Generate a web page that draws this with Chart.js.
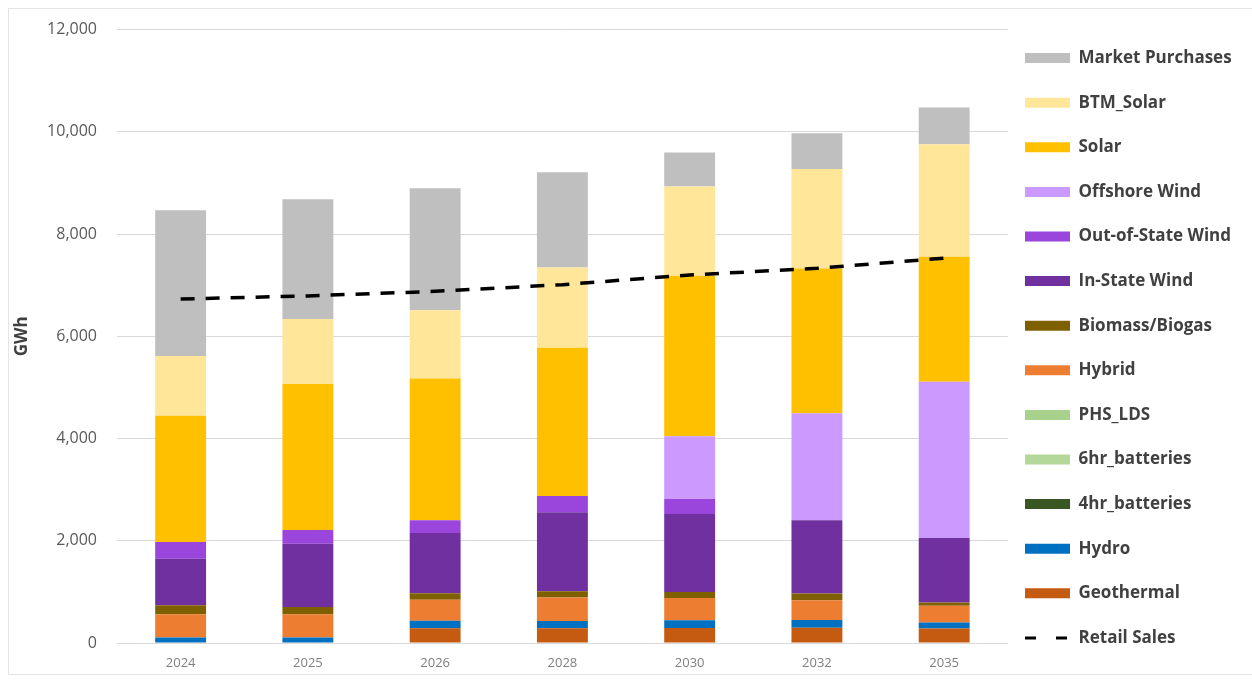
<!DOCTYPE html>
<html>
<head>
<meta charset="utf-8">
<title>Energy supply by resource</title>
<script src="https://cdn.jsdelivr.net/npm/chart.js@4.4.1/dist/chart.umd.min.js"></script>
<style>
  html, body { margin: 0; padding: 0; background: #fff; }
  #wrap { position: relative; width: 1252px; height: 681px; overflow: hidden; }
  #frame { position: absolute; left: 8px; top: 8px; width: 1300px; height: 667px; border: 1px solid #e4e4e4; box-sizing: border-box; }
  #chart { position: absolute; left: 0; top: 0; }
</style>
</head>
<body>
<div id="wrap"><div id="frame"></div><canvas id="chart" width="1252" height="681"></canvas></div>
<script>
// values (GWh)
var years = ['2024', '2025', '2026', '2028', '2030', '2032', '2035'];
var geothermal = [0, 0, 290, 290, 295, 298, 286];
var hydro = [110, 110, 145, 140, 150, 150, 117];
var batteries4hr = [0, 0, 0, 0, 0, 0, 0];
var batteries6hr = [0, 0, 0, 0, 0, 0, 0];
var phsLds = [0, 0, 0, 0, 0, 0, 0];
var hybrid = [450, 450, 410, 460, 435, 390, 324];
var biomass = [180, 145, 130, 120, 120, 130, 66];
var inStateWind = [910, 1235, 1175, 1550, 1523, 1432, 1263];
var outStateWind = [325, 273, 253, 314, 293, 0, 0];
var offshoreWind = [0, 0, 0, 0, 1230, 2096, 3053];
var solar = [2470, 2856, 2773, 2900, 3137, 2830, 2446];
var btmSolar = [1170, 1267, 1332, 1572, 1747, 1949, 2200];
var marketPurchases = [2850, 2345, 2389, 1865, 664, 699, 720];
var retailSales = [6730, 6790, 6880, 7010, 7200, 7330, 7530];

var colors = {
  'Geothermal': '#c55a11',
  'Hydro': '#0070c0',
  '4hr_batteries': '#385723',
  '6hr_batteries': '#b4d79a',
  'PHS_LDS': '#a9d18e',
  'Hybrid': '#ed7d31',
  'Biomass/Biogas': '#7f6000',
  'In-State Wind': '#7030a0',
  'Out-of-State Wind': '#9a45dc',
  'Offshore Wind': '#cc99ff',
  'Solar': '#ffc000',
  'BTM_Solar': '#ffe699',
  'Market Purchases': '#bfbfbf'
};

// bottom of the stack first
var stackOrder = [
  ['Geothermal', geothermal],
  ['Hydro', hydro],
  ['4hr_batteries', batteries4hr],
  ['6hr_batteries', batteries6hr],
  ['PHS_LDS', phsLds],
  ['Hybrid', hybrid],
  ['Biomass/Biogas', biomass],
  ['In-State Wind', inStateWind],
  ['Out-of-State Wind', outStateWind],
  ['Offshore Wind', offshoreWind],
  ['Solar', solar],
  ['BTM_Solar', btmSolar],
  ['Market Purchases', marketPurchases]
];

var datasets = stackOrder.map(function (s) {
  return {
    type: 'bar', label: s[0], data: s[1], stack: 'supply',
    backgroundColor: colors[s[0]], borderWidth: 0,
    barPercentage: 0.4, categoryPercentage: 1
  };
});
datasets.push({
  type: 'line', label: 'Retail Sales', data: retailSales, stack: 'retail', order: -1,
  borderColor: '#000', borderWidth: 3.5, borderDash: [14, 11],
  pointRadius: 0, fill: false, tension: 0
});

var FONT = '"Open Sans", "Noto Sans", sans-serif';

// the legend sits a bit closer to the plot than Chart.js puts it
var legendNudge = {
  id: 'legendNudge',
  afterLayout: function (chart) {
    var lg = chart.legend; if (!lg) return;
    var dx = 1025 - (lg.left + lg.options.labels.padding);
    lg.left += dx; lg.right += dx;
  }
};

new Chart(document.getElementById('chart').getContext('2d'), {
  type: 'bar',
  data: { labels: years, datasets: datasets },
  plugins: [legendNudge],
  options: {
    responsive: false,
    animation: false,
    layout: { padding: { top: 15, right: 0, bottom: 0, left: 0 } },
    plugins: {
      tooltip: { enabled: false },
      legend: {
        position: 'right',
        labels: {
          usePointStyle: true,
          pointStyleWidth: 45,
          boxHeight: 10,
          padding: 27.6,
          color: '#404040',
          font: { family: FONT, size: 17, weight: 'bold' },
          generateLabels: function (chart) {
            var items = chart.data.datasets.map(function (ds, i) {
              var isLine = ds.type === 'line';
              return {
                text: ds.label, datasetIndex: i, hidden: false, isLine: isLine,
                fillStyle: isLine ? 'rgba(0,0,0,0)' : ds.backgroundColor,
                strokeStyle: isLine ? '#000' : ds.backgroundColor,
                lineWidth: isLine ? 3 : 0,
                lineDash: isLine ? [11, 20] : [],
                pointStyle: isLine ? 'line' : 'rect',
                fontColor: '#404040'
              };
            });
            var bars = items.filter(function (it) { return !it.isLine; }).reverse();
            var lines = items.filter(function (it) { return it.isLine; });
            return bars.concat(lines);
          }
        }
      }
    },
    scales: {
      x: {
        stacked: true,
        grid: { display: false, drawTicks: false },
        border: { display: true, color: '#d9d9d9', width: 1 },
        ticks: { color: '#7f7f7f', font: { family: FONT, size: 13 }, padding: 12 },
        afterFit: function (s) { s.height = 38; }
      },
      y: {
        stacked: true,
        min: 0, max: 12000,
        grid: { color: '#d9d9d9', drawTicks: false },
        border: { display: false },
        ticks: {
          stepSize: 2000, padding: 20, color: '#595959',
          font: { family: FONT, size: 16 },
          callback: function (v) { return v.toLocaleString('en-US'); }
        },
        title: {
          display: true, text: 'GWh', color: '#404040',
          font: { family: FONT, size: 17, weight: 'bold' },
          padding: { top: 12, bottom: 0 }
        },
        afterFit: function (s) { s.width = 117; }
      }
    }
  }
});
</script>
</body>
</html>
